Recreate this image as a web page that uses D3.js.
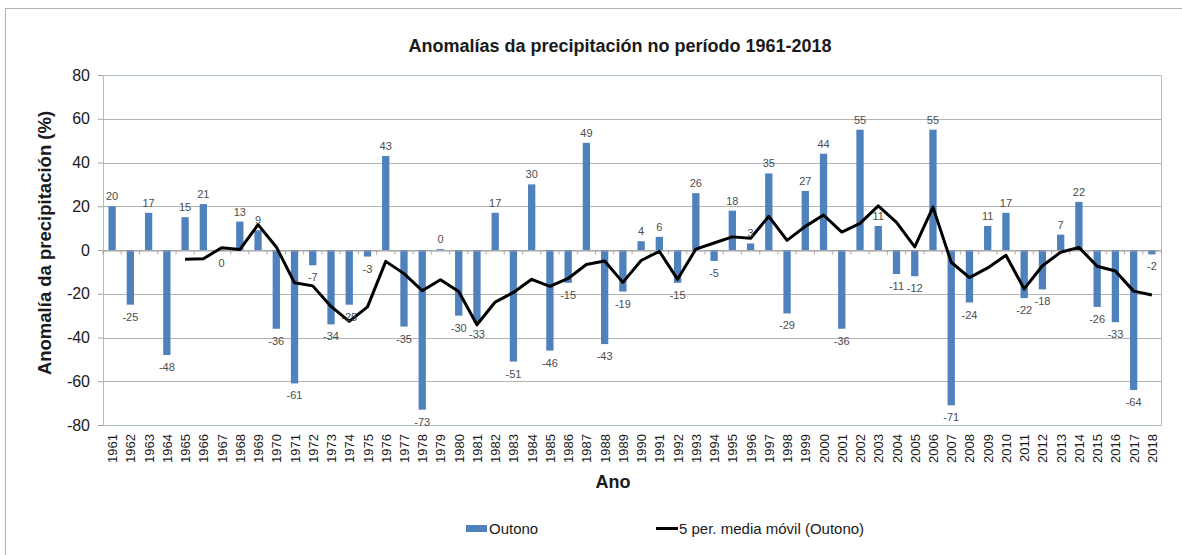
<!DOCTYPE html>
<html>
<head>
<meta charset="utf-8">
<script src="https://cdn.jsdelivr.net/npm/d3@7"></script>
<style>
  body { margin: 0; background: #fff; }
  svg { display: block; font-family: "Liberation Sans", Arial, sans-serif; }
</style>
</head>
<body>
<div id="chart"></div>
<script>
// anos 1961-2018
const years = ["1961","1962","1963","1964","1965","1966","1967","1968","1969","1970",
  "1971","1972","1973","1974","1975","1976","1977","1978","1979","1980",
  "1981","1982","1983","1984","1985","1986","1987","1988","1989","1990",
  "1991","1992","1993","1994","1995","1996","1997","1998","1999","2000",
  "2001","2002","2003","2004","2005","2006","2007","2008","2009","2010",
  "2011","2012","2013","2014","2015","2016","2017","2018"];

// anomalía de outono (%)
const outono = [20,-25,17,-48,15,21,-0.4,13,9,-36,
  -61,-7,-34,-25,-3,43,-35,-73,0.4,-30,
  -33,17,-51,30,-46,-15,49,-43,-19,4,
  6,-15,26,-5,18,3,35,-29,27,44,
  -36,55,11,-11,-12,55,-71,-24,11,17,
  -22,-18,7,22,-26,-33,-64,-2];

// media móvil 5 períodos (desde 1965)
const mediaYears = years.slice(4);
const mediaMovil = [-4.2,-4,1,0.2,11.6,1.4,-15,-16.4,-25.8,-32.6,
  -26,-5.2,-10.8,-18.6,-13.6,-19,-34.2,-23.8,-19.4,-13.4,
  -16.6,-13,-6.6,-5,-14.8,-4.8,-0.6,-13.4,0.4,3.2,
  6,5.4,15.4,4.4,10.8,16,8.2,12.2,20.2,12.6,
  1.4,19.6,-5.6,-12.6,-8.2,-2.4,-17.8,-7.2,-1,1.2,
  -7.4,-9.6,-18.8,-20.6];

const yTicks = [80,60,40,20,0,-20,-40,-60,-80];

const W = 1182, H = 555;
const plot = { left: 103, right: 1161, top: 75, bottom: 425 };

const svg = d3.select("#chart").append("svg")
  .attr("width", W)
  .attr("height", H);

// marco exterior
svg.append("rect")
  .attr("x", 5.5).attr("y", 8.5)
  .attr("width", W + 10).attr("height", H + 10)
  .attr("fill", "none")
  .attr("stroke", "#b3b3b3");

const x = d3.scaleBand()
  .domain(years)
  .range([plot.left, plot.right]);

const y = d3.scaleLinear()
  .domain([-80, 80])
  .range([plot.bottom, plot.top]);

const barW = x.bandwidth() * 0.4;

// grella
svg.append("g")
  .selectAll("line")
  .data(yTicks)
  .enter().append("line")
  .attr("x1", plot.left).attr("x2", plot.right)
  .attr("y1", d => Math.round(y(d)) + 0.5)
  .attr("y2", d => Math.round(y(d)) + 0.5)
  .attr("stroke", "#b4b4b4");

// eixo Y
const yAxis = svg.append("g")
  .attr("transform", `translate(${plot.left},0)`)
  .call(d3.axisLeft(y).tickValues(yTicks).tickSize(5).tickPadding(8).tickFormat(d => String(d)));
yAxis.select(".domain").remove();
yAxis.selectAll("line").attr("stroke", "#a0a0a0");
yAxis.selectAll("text")
  .attr("font-size", 16)
  .attr("fill", "#1a1a1a")
  .style("font-family", "Liberation Sans, Arial, sans-serif");

// borde da área
svg.append("rect")
  .attr("x", plot.left + 0.5).attr("y", plot.top + 0.5)
  .attr("width", plot.right - plot.left).attr("height", plot.bottom - plot.top)
  .attr("fill", "none")
  .attr("stroke", "#aebfc9");

// barras
svg.selectAll(".bar")
  .data(outono)
  .enter().append("rect")
  .attr("class", "bar")
  .attr("x", (d, i) => x(years[i]) + (x.bandwidth() - barW) / 2)
  .attr("width", barW)
  .attr("y", d => y(Math.max(0, d)))
  .attr("height", d => Math.abs(y(d) - y(0)))
  .attr("fill", "#4f81bd");

// eixo X no cero
const xAxis = svg.append("g")
  .attr("transform", `translate(0,${Math.round(y(0)) + 0.5})`)
  .call(d3.axisBottom(x).tickSize(4).tickFormat(""));
xAxis.select(".domain").attr("stroke", "#a0a0a0");
xAxis.selectAll(".tick line")
  .attr("stroke", "#b5a9a3")
  .attr("transform", `translate(${-x.bandwidth() / 2},0)`);

// etiquetas dos anos
svg.append("g")
  .selectAll("text")
  .data(years)
  .enter().append("text")
  .attr("transform", d => `translate(${x(d) + x.bandwidth() / 2 + 5},434) rotate(-90)`)
  .attr("text-anchor", "end")
  .attr("font-size", 13)
  .attr("fill", "#1a1a1a")
  .text(d => d);

// media móvil
const line = d3.line()
  .x((d, i) => x(mediaYears[i]) + x.bandwidth() / 2)
  .y(d => y(d));

svg.append("path")
  .datum(mediaMovil)
  .attr("d", line)
  .attr("fill", "none")
  .attr("stroke", "#000")
  .attr("stroke-width", 3)
  .attr("stroke-linejoin", "round");

// etiquetas de valor
svg.append("g")
  .selectAll("text")
  .data(outono)
  .enter().append("text")
  .attr("x", (d, i) => x(years[i]) + x.bandwidth() / 2)
  .attr("y", d => d >= 0 ? y(d) - 6 : y(d) + 16)
  .attr("text-anchor", "middle")
  .attr("font-size", 11)
  .attr("fill", "#4d4d4d")
  .text(d => String(Math.round(d)));

// títulos
svg.append("text")
  .attr("x", 620).attr("y", 52)
  .attr("text-anchor", "middle")
  .attr("font-size", 18)
  .attr("font-weight", "bold")
  .attr("fill", "#1a1a1a")
  .text("Anomalías da precipitación no período 1961-2018");

svg.append("text")
  .attr("transform", `translate(51,243) rotate(-90)`)
  .attr("text-anchor", "middle")
  .attr("font-size", 18.5)
  .attr("font-weight", "bold")
  .attr("fill", "#1a1a1a")
  .text("Anomalía da precipitación (%)");

svg.append("text")
  .attr("x", 613).attr("y", 488)
  .attr("text-anchor", "middle")
  .attr("font-size", 18)
  .attr("font-weight", "bold")
  .attr("fill", "#1a1a1a")
  .text("Ano");

// lenda
const legend = svg.append("g").attr("font-size", 15).attr("fill", "#1a1a1a");
legend.append("rect")
  .attr("x", 466).attr("y", 525)
  .attr("width", 21).attr("height", 7)
  .attr("fill", "#4f81bd");
legend.append("text")
  .attr("x", 489).attr("y", 534)
  .text("Outono");
legend.append("line")
  .attr("x1", 656).attr("x2", 678)
  .attr("y1", 528.5).attr("y2", 528.5)
  .attr("stroke", "#000")
  .attr("stroke-width", 3);
legend.append("text")
  .attr("x", 679).attr("y", 534)
  .text("5 per. media móvil (Outono)");
</script>
</body>
</html>
